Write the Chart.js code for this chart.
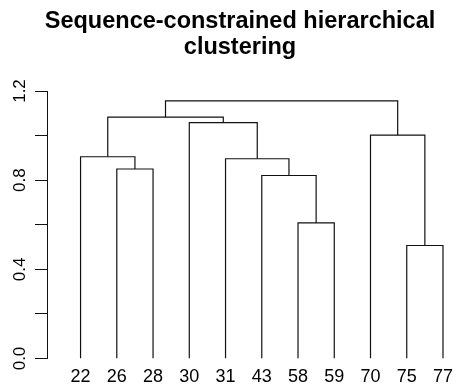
<!DOCTYPE html>
<html>
<head>
<meta charset="utf-8">
<script src="https://cdn.jsdelivr.net/npm/chart.js@4/dist/chart.umd.min.js"></script>
<style>
  html, body { margin: 0; padding: 0; background: #fff; }
  canvas { display: block; }
</style>
</head>
<body>
<canvas id="dendro" width="461" height="387"></canvas>
<script>
// Leaf labels in dendrogram order (left to right)
const leafLabels = ['22', '26', '28', '30', '31', '43', '58', '59', '70', '75', '77'];

// Merge table in hclust style: negative = leaf position (1-based), positive = earlier merge step
const mergeLeft   = [-10, -7, -6, -2, -5, -1, -9, -4, 6, 9];
const mergeRight  = [-11, -8,  2, -3,  3,  4,  1,  5, 8, 7];
const mergeHeight = [0.507, 0.608, 0.821, 0.850, 0.896, 0.905, 1.002, 1.058, 1.083, 1.156];

// Axis ticks
const yTicks = [0, 0.2, 0.4, 0.6, 0.8, 1.0, 1.2];
const yLabelTicks = [0, 0.4, 0.8, 1.2];

const FONT = "'Liberation Sans', Arial, Helvetica, sans-serif";
const LINE = '#111';

// Resolve x position / height of a merge member
const nodeX = [];
function memberPos(m) {
  if (m < 0) return { x: -m, y: 0 };
  return { x: nodeX[m - 1], y: mergeHeight[m - 1] };
}

// One bracket dataset per merge
const datasets = mergeHeight.map((h, i) => {
  const a = memberPos(mergeLeft[i]);
  const b = memberPos(mergeRight[i]);
  nodeX[i] = (a.x + b.x) / 2;
  return {
    data: [
      { x: a.x, y: a.y },
      { x: a.x, y: h },
      { x: b.x, y: h },
      { x: b.x, y: b.y }
    ],
    showLine: true,
    borderColor: LINE,
    borderWidth: 1.2,
    pointRadius: 0,
    tension: 0,
    fill: false
  };
});

// Rotated value labels on the left axis
const yLabelPlugin = {
  id: 'yLabels',
  afterDraw(chart) {
    const { ctx } = chart;
    const ys = chart.scales.y;
    ctx.save();
    ctx.fillStyle = '#000';
    ctx.font = '17px ' + FONT;
    ctx.textAlign = 'center';
    ctx.textBaseline = 'middle';
    yLabelTicks.forEach(v => {
      const py = ys.getPixelForValue(v);
      ctx.save();
      ctx.translate(20, py);
      ctx.rotate(-Math.PI / 2);
      ctx.fillText(v.toFixed(1), 0, 0);
      ctx.restore();
    });
    ctx.restore();
  }
};

new Chart(document.getElementById('dendro'), {
  type: 'scatter',
  data: { datasets },
  plugins: [yLabelPlugin],
  options: {
    responsive: false,
    animation: false,
    devicePixelRatio: 1,
    layout: { padding: { left: 19, right: 0, top: 0, bottom: 0 } },
    plugins: {
      legend: { display: false },
      tooltip: { enabled: false },
      title: {
        display: true,
        text: ['Sequence-constrained hierarchical', 'clustering'],
        color: '#000',
        font: { family: FONT, size: 23.5, weight: 'bold', lineHeight: 1.1 },
        padding: { top: 9, bottom: 30.3 }
      }
    },
    scales: {
      x: {
        type: 'linear',
        min: 0.074,
        max: 11.354,
        afterBuildTicks(scale) {
          scale.ticks = leafLabels.map((_, i) => ({ value: i + 1 }));
        },
        afterFit(scale) { scale.height = 28.5; },
        ticks: {
          autoSkip: false,
          maxRotation: 0,
          minRotation: 0,
          padding: 8,
          color: '#000',
          font: { family: FONT, size: 18 },
          callback: v => leafLabels[v - 1]
        },
        grid: { display: false, drawTicks: false },
        border: { display: false }
      },
      y: {
        type: 'linear',
        min: 0,
        max: 1.2,
        afterBuildTicks(scale) {
          scale.ticks = yTicks.map(v => ({ value: v }));
        },
        afterFit(scale) { scale.width = 28; },
        ticks: { display: false },
        grid: {
          display: true,
          drawOnChartArea: false,
          drawTicks: true,
          tickLength: 12,
          color: LINE,
          lineWidth: 1
        },
        border: { display: true, color: LINE, width: 1 }
      }
    }
  }
});
</script>
</body>
</html>
